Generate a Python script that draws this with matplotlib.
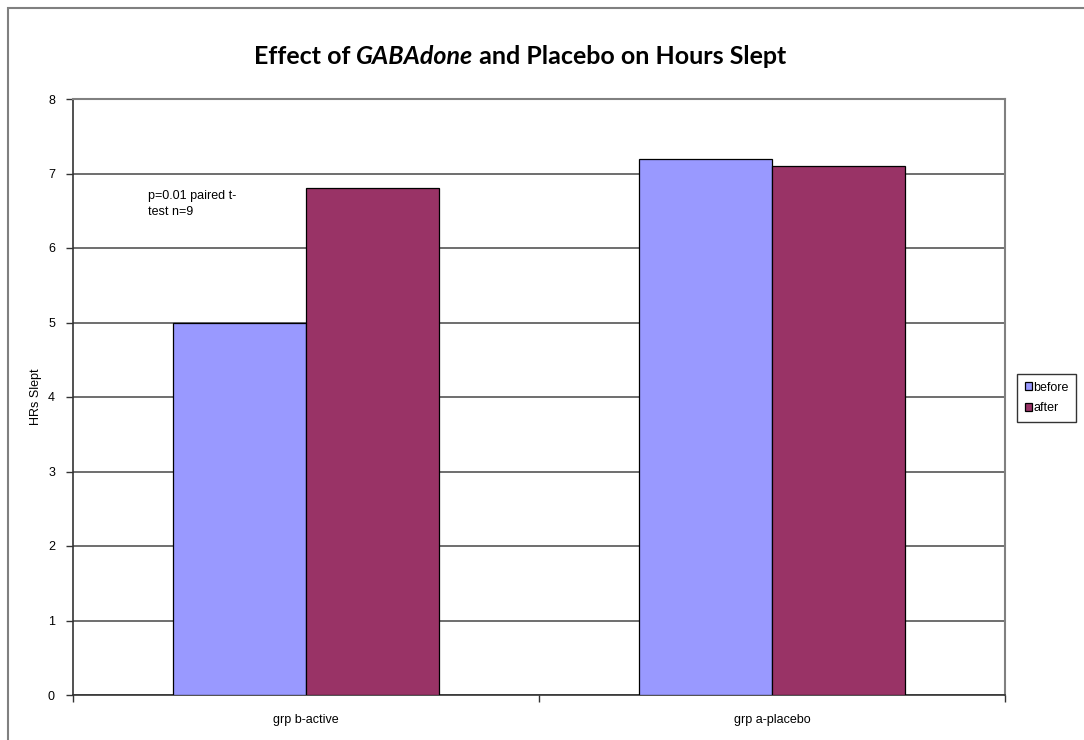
import matplotlib.pyplot as plt
import numpy as np
from matplotlib.patches import Rectangle

groups = ["grp b-active", "grp a-placebo"]
before = [5.0, 7.2]
after = [6.8, 7.1]
series_names = ["before", "after"]
note = "p=0.01 paired t-\ntest n=9"
title_pieces = [("Effect of ", "normal"), ("GABAdone", "italic"),
                (" and Placebo on Hours Slept", "normal")]

plt.rcParams['font.family'] = ['Liberation Sans', 'DejaVu Sans']

fig = plt.figure(figsize=(10.84, 7.4), dpi=100)
fig.patch.set_facecolor("white")

# outer chart border, only left and top edges are visible
fig.patches.append(Rectangle((8 / 1084, -0.1), 1.2, 1 - 8 / 740 + 0.1,
                             transform=fig.transFigure, fill=False,
                             edgecolor="#808080", linewidth=1.5))

ax = fig.add_axes([73 / 1084, 1 - 695 / 740, (1005 - 73) / 1084, (695 - 99) / 740])

x = np.arange(len(groups))
w = 0.285
ax.bar(x - w / 2, before, w, color="#9999FF", edgecolor="black", linewidth=0.9,
       label=series_names[0], zorder=3)
ax.bar(x + w / 2, after, w, color="#993366", edgecolor="black", linewidth=0.9,
       label=series_names[1], zorder=3)

ax.set_xlim(-0.5, 1.5)
ax.set_ylim(0, 8)
ax.set_yticks(range(0, 9))
ax.yaxis.grid(True, color="#555555", linewidth=1.2, zorder=0)
ax.set_axisbelow(True)

# category boundaries get the tick marks, labels sit in the middle
ax.set_xticks([-0.5, 0.5, 1.5])
ax.set_xticklabels([])
ax.set_xticks(x, minor=True)
ax.set_xticklabels(groups, minor=True, fontsize=9)
ax.tick_params(axis="x", which="minor", length=0, pad=14)
ax.tick_params(axis="x", which="major", length=5, width=1, color="#333333", direction="out")
ax.tick_params(axis="y", length=5, width=1, color="#333333", direction="out", labelsize=9, pad=8)

for s in ["top", "right"]:
    ax.spines[s].set_color("#808080")
    ax.spines[s].set_linewidth(1.5)
ax.spines["left"].set_color("#333333")
ax.spines["bottom"].set_color("#333333")
ax.spines["left"].set_linewidth(1.2)
ax.spines["bottom"].set_linewidth(1.2)

ax.set_ylabel("HRs Slept", fontsize=9)
ax.yaxis.set_label_coords(-(73 - 42) / 932, 0.5)

ax.text(-0.34, 6.78, note, fontsize=9, va="top", ha="left", linespacing=1.45)

# title built from pieces so the drug name can be italic
fig.canvas.draw()
renderer = fig.canvas.get_renderer()
ty = 1 - 56 / 740
pieces = []
for txt, st in title_pieces:
    t = fig.text(0, ty, txt, fontsize=18, fontweight="bold", style=st,
                 family="Lato", ha="left", va="center")
    pieces.append(t)
widths = [p.get_window_extent(renderer).width for p in pieces]
left = 520 - sum(widths) / 2
for p, wd in zip(pieces, widths):
    p.set_x(left / fig.bbox.width)
    left += wd

leg = fig.legend(loc="center left", bbox_to_anchor=(1017 / 1084, 1 - 398 / 740),
                 fontsize=9, frameon=True, fancybox=False, handlelength=0.6,
                 handleheight=0.6, handletextpad=0.1, borderpad=0.6,
                 labelspacing=0.7, borderaxespad=0)
leg.get_frame().set_edgecolor("black")
leg.get_frame().set_linewidth(1)

fig.savefig("out.png", dpi=100)
